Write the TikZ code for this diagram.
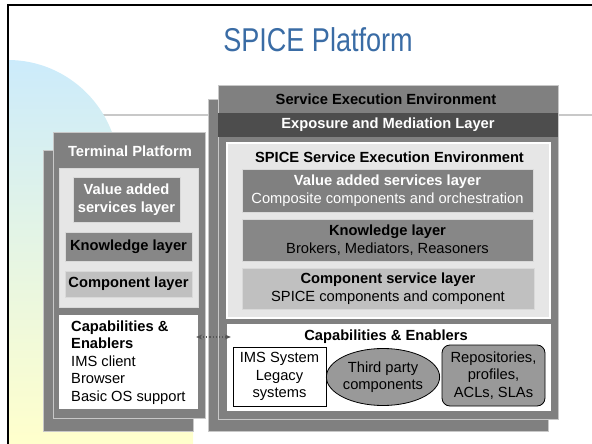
\documentclass[tikz,border=0pt]{standalone}
\usepackage{fontspec}
\setmainfont{Liberation Sans}
\newfontfamily\narrowfont[FakeStretch=0.82]{Liberation Sans}
\usetikzlibrary{arrows.meta}
\usetikzlibrary{shapes.geometric}

\definecolor{titleblue}{HTML}{3A6CA5}
\definecolor{boxgray}{HTML}{808080}
\definecolor{darkband}{HTML}{4D4D4D}
\definecolor{innergray}{HTML}{E6E6E6}
\definecolor{knowgray}{HTML}{878787}
\definecolor{compgray}{HTML}{C0C0C0}
\definecolor{partgray}{HTML}{999999}
\definecolor{edgegray}{HTML}{C8C8C8}
\definecolor{arrowgray}{HTML}{555555}
\definecolor{bgblue}{HTML}{CCEBFB}
\definecolor{bgyellow}{HTML}{FFFFCC}

\begin{document}
\begin{tikzpicture}[x=1pt, y=-1pt, >={Stealth[length=6pt, width=5pt, fill=arrowgray]},
    every node/.style = {font=\fontsize{14.7}{17.5}\selectfont, inner sep=0pt},
    frame/.style = {draw=edgegray, line width=0.8pt, fill=boxgray},
    layer/.style = {draw=white!85!black, line width=0.8pt},
    bandtext/.style = {font=\fontsize{14.7}{17.5}\selectfont\bfseries},
    part/.style = {draw=black, line width=0.8pt, align=center}]
    \useasboundingbox (0,0) rectangle (592,444);

    % Slide background
    \draw[edgegray, line width=1.5pt] (8,115) -- (592,115);
    \shade[top color=bgblue, bottom color=bgyellow] (8,444) -- (8,60)
        .. controls (69,60) and (119,110) .. (119,171) -- (193,171) -- (193,444) -- cycle;
    \draw[line width=2pt] (8,444) -- (8,5) -- (592,5);
    \node[font=\narrowfont\fontsize{33}{36}\selectfont, text=titleblue] (title) at (318,40) {SPICE Platform};

    % Nodes: terminal side
    \node[frame, minimum width=150pt, minimum height=281pt] (tback) at (118,290.5) {};
    \node[frame, minimum width=152pt, minimum height=286pt] (tfront) at (129,275) {};
    \node[bandtext, text=white] (ttitle) at (130,151) {Terminal Platform};
    \node[layer, fill=innergray, minimum width=139pt, minimum height=139pt] (tinner) at (128.5,237.5) {};
    \node[layer, fill=boxgray, bandtext, text=white, align=center,
        minimum width=107pt, minimum height=45pt] (tvalue) at (126.5,199.5) {Value added\\services layer};
    \node[layer, fill=knowgray, bandtext, minimum width=127pt, minimum height=29pt] (tknow) at (128.5,246.5) {Knowledge layer};
    \node[layer, fill=compgray, bandtext, minimum width=127pt, minimum height=26pt] (tcomp) at (128.5,284) {Component layer};
    \node[fill=white, minimum width=139pt, minimum height=94pt] (tcap) at (128.5,362) {};
    \node[anchor=west, align=left] (tcaptext) at (71,362.5)
        {\textbf{Capabilities \&}\\\textbf{Enablers}\\IMS client\\Browser\\Basic OS support};

    % Nodes: server side
    \node[frame, minimum width=340pt, minimum height=332pt] (sback) at (378,265) {};
    \node[frame, minimum width=340pt, minimum height=334pt] (sfront) at (388,252) {};
    \node[bandtext] (stitle) at (386,99.5) {Service Execution Environment};
    \node[fill=darkband, bandtext, text=white, minimum width=340pt, minimum height=24pt] (sexpo) at (388,125) {Exposure and Mediation Layer};
    \node[draw=white, line width=1.2pt, fill=innergray, minimum width=323pt, minimum height=175pt] (sinner) at (388.5,230.5) {};
    \node[bandtext] (sintitle) at (389.5,157) {SPICE Service Execution Environment};
    \node[layer, fill=boxgray, text=white, align=center, minimum width=291pt, minimum height=43pt] (svalue) at (387.5,190.5)
        {\textbf{Value added services layer}\\Composite components and orchestration};
    \node[layer, fill=knowgray, align=center, minimum width=291pt, minimum height=42pt] (sknow) at (387.5,240)
        {\textbf{Knowledge layer}\\Brokers, Mediators, Reasoners};
    \node[layer, fill=compgray, align=center, minimum width=292pt, minimum height=41pt] (scomp) at (388,288.5)
        {\textbf{Component service layer}\\SPICE components and component};
    \node[fill=white, minimum width=324pt, minimum height=87pt] (scap) at (389,367.5) {};
    \node[bandtext] (scaptitle) at (386,337) {Capabilities \& Enablers};
    \node[part, fill=white, minimum width=93pt, minimum height=59pt] (sims) at (279.5,376.5) {IMS System\\Legacy\\systems};
    \node[part, ellipse, fill=partgray, minimum width=102pt, minimum height=57pt] (sthird) at (383,377) {Third party\\components};
    \node[part, rounded corners=8pt, fill=partgray, minimum width=103pt, minimum height=61pt] (srepo) at (493.5,375.5)
        {Repositories,\\profiles,\\ACLs, SLAs};

    % Edges
    \draw[<->, dotted, arrowgray, line width=1.2pt] ([xshift=-2pt]tcap.east |- scaptitle) -- ([xshift=4pt]scap.west |- scaptitle);

\end{tikzpicture}
\end{document}
